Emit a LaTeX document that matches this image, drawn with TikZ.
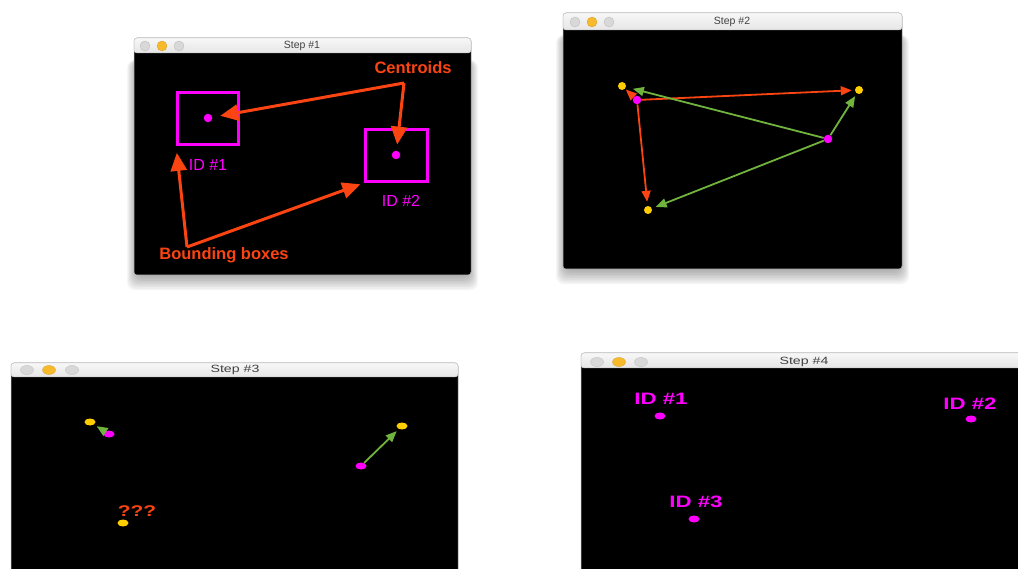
\documentclass[tikz,border=0pt]{standalone}
\usepackage{fontspec}
\setmainfont{Liberation Sans}
\usepackage{tikz}
\usetikzlibrary{arrows.meta, positioning, calc, shapes.geometric}
\definecolor{alert}{RGB}{250,68,18}
\definecolor{track}{RGB}{112,180,62}
\definecolor{mag}{RGB}{255,0,255}
\definecolor{gold}{RGB}{255,206,0}
\definecolor{lamp}{RGB}{246,186,44}
\definecolor{lampgrey}{RGB}{216,216,216}
\newcommand{\xwide}[1]{\scalebox{1.35}[1]{#1}}
\tikzset{
  screen/.style={fill=black, draw=gray!60, line width=0.5pt, rounded corners=3pt},
  titlebar/.style={top color=gray!6, bottom color=gray!20, draw=gray!45,
                   line width=0.5pt, rounded corners=3pt},
  haze/.style={fill=black, fill opacity=0.035, rounded corners=8pt},
  lampon/.style={circle, fill=lamp, draw=lamp!85!black, line width=0.3pt,
                 minimum size=10pt, inner sep=0pt},
  lampdim/.style={circle, fill=lampgrey, draw=gray!55, line width=0.3pt,
                  minimum size=10pt, inner sep=0pt},
  lampwide/.style={ellipse, minimum width=13pt, minimum height=9pt},
  wintitle/.style={font=\fontsize{10.5}{12}\selectfont, text=black!75},
  oldpt/.style={circle, fill=gold, minimum size=8pt, inner sep=0pt},
  newpt/.style={circle, fill=mag, minimum size=8.5pt, inner sep=0pt},
  widept/.style={ellipse, minimum width=11pt, minimum height=7pt},
  bbox/.style={draw=mag, line width=2.8pt, minimum width=61pt, minimum height=52pt},
  callout/.style={draw=alert, line width=3pt, -{Triangle[length=18pt, width=16pt]}},
  callnote/.style={font=\bfseries\fontsize{16.5}{18}\selectfont, text=alert},
  idtag/.style={font=\fontsize{16}{18}\selectfont, text=mag},
  idbold/.style={font=\bfseries\fontsize{16.5}{18}\selectfont, text=mag},
  match/.style={-{Triangle[length=11pt, width=9pt]}, line width=1.8pt}
}

\begin{document}
\begin{tikzpicture}[x=1pt, y=-1pt]
  \useasboundingbox[fill=white] (0,0) rectangle (1018,569);
  \clip (0,0) rectangle (1018,569);

  % soft shadows under the two upper windows
  \foreach \k in {1,...,14} {
    \fill[haze] (141-\k,60) rectangle (464+\k,268+1.6*\k);
    \fill[haze] (570-\k,35) rectangle (895+\k,262+1.6*\k);
  }

  % step 1: detections with bounding boxes
  \path[screen] (134,38) rectangle (471,275);
  \path[titlebar] (134,38) rectangle (471,53);
  \node[lampdim] (a1) at (145,46) {};
  \node[lampon]  (a2) at (162,46) {};
  \node[lampdim] (a3) at (179,46) {};
  \node[wintitle] (t1) at (302,46) {Step \#1};

  \node[bbox] (box1) at (208,118.5) {};
  \node[bbox, minimum width=62pt] (box2) at (396.5,155.5) {};
  \node[newpt] (c1) at (208,118) {};
  \node[newpt] (c2) at (396,155) {};
  \node[idtag] (id1) at (208,165) {ID \#1};
  \node[idtag] (id2) at (401,201) {ID \#2};

  \node[callnote] (cen) at (413,68) {Centroids};
  \node[callnote] (bbx) at (224,255) {Bounding boxes};
  \coordinate (cfork) at (404,83);
  \coordinate (bfork) at (187,247);
  \draw[callout, shorten >=8pt] (cfork) -- (c1);
  \draw[callout, shorten >=6pt] (cfork) -- (c2);
  \draw[callout, shorten >=7pt] (bfork) -- (box1.south west);
  \draw[callout, shorten >=4pt] (bfork) -- (box2.south west);

  % step 2: distances between old and new centroids
  \path[screen] (563,13) rectangle (902,269);
  \path[titlebar] (563,13) rectangle (902,30);
  \node[lampdim] (b1) at (575,22) {};
  \node[lampon]  (b2) at (592,22) {};
  \node[lampdim] (b3) at (609,22) {};
  \node[wintitle] (t2) at (732,22) {Step \#2};

  \node[oldpt] (o1) at (622,86) {};
  \node[oldpt] (o2) at (859,90) {};
  \node[oldpt] (o3) at (648,210) {};
  \node[newpt] (n1) at (637,100) {};
  \node[newpt] (n2) at (828,139) {};

  \draw[match, alert, shorten >=1pt] (n1) -- (o1);
  \draw[match, alert, shorten >=3pt] (n1) -- (o2);
  \draw[match, alert, shorten >=4pt] (n1) -- (o3);
  \draw[match, track, shorten >=7pt] (n2) -- (o1);
  \draw[match, track, shorten >=3pt] (n2) -- (o2);
  \draw[match, track, shorten >=4pt] (n2) -- (o3);

  % step 3: update matched ids
  \path[screen] (11,363) rectangle (458,600);
  \path[titlebar] (11,363) rectangle (458,377);
  \node[lampdim, lampwide] (e1) at (27,370) {};
  \node[lampon, lampwide]  (e2) at (49,370) {};
  \node[lampdim, lampwide] (e3) at (72,370) {};
  \node[wintitle] (t3) at (235,370) {\xwide{Step \#3}};

  \node[oldpt, widept] (p1) at (90,422) {};
  \node[oldpt, widept] (p2) at (402,426) {};
  \node[oldpt, widept] (p3) at (123,523) {};
  \node[newpt, widept] (q1) at (109,434) {};
  \node[newpt, widept] (q2) at (361,466) {};
  \draw[match, track, shorten >=3pt] (q1) -- (p1);
  \draw[match, track, shorten >=3pt] (q2) -- (p2);
  \node[callnote, font=\bfseries\fontsize{15.5}{18}\selectfont] (unk) at (137,511) {\xwide{???}};

  % step 4: register the new object
  \path[screen] (581,353) rectangle (1030,600);
  \path[titlebar] (581,353) rectangle (1030,368);
  \node[lampdim, lampwide] (f1) at (597,362) {};
  \node[lampon, lampwide]  (f2) at (619,362) {};
  \node[lampdim, lampwide] (f3) at (641,362) {};
  \node[wintitle] (t4) at (804,362) {\xwide{Step \#4}};

  \node[newpt, widept] (r1) at (660,416) {};
  \node[newpt, widept] (r2) at (971,419) {};
  \node[newpt, widept] (r3) at (694,519) {};
  \node[idbold] (rid1) at (661,399) {\xwide{ID \#1}};
  \node[idbold] (rid2) at (970,404) {\xwide{ID \#2}};
  \node[idbold] (rid3) at (696,502) {\xwide{ID \#3}};
\end{tikzpicture}
\end{document}
